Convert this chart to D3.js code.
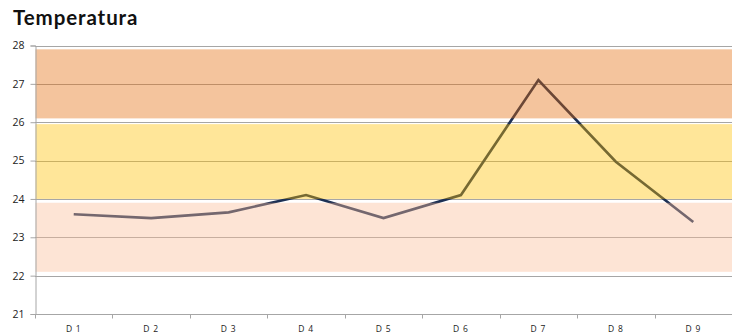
<!DOCTYPE html>
<html>
<head>
<meta charset="utf-8">
<script src="https://cdn.jsdelivr.net/npm/d3@7"></script>
<style>
  html, body { margin: 0; padding: 0; background: #fff; }
  svg { display: block; }
</style>
</head>
<body>
<svg id="chart" width="732" height="335"></svg>
<script>
// Daily temperature readings
const days = ["D 1", "D 2", "D 3", "D 4", "D 5", "D 6", "D 7", "D 8", "D 9"];
const temps = [23.6, 23.5, 23.65, 24.1, 23.5, 24.1, 27.1, 24.97, 23.4];

// Comfort zones drawn as translucent bands over the line
const bandLow  = [22.1, 24.0, 26.1];
const bandHigh = [23.9, 25.95, 27.9];
const bandFill = ["#fabb96", "#ffc000", "#e46c0a"];

// Y axis ticks
const yTicks = [21, 22, 23, 24, 25, 26, 27, 28];

const svg = d3.select("#chart");
const plotLeft = 35, plotRight = 732, plotTop = 45.5, plotBottom = 314;

const x = d3.scaleBand().domain(days).range([plotLeft, plotRight]);
const y = d3.scaleLinear().domain([21, 28]).range([plotBottom, plotTop]);

svg.append("text")
  .attr("x", 13).attr("y", 25)
  .attr("font-family", "Lato, 'Open Sans', sans-serif")
  .attr("font-weight", "bold")
  .attr("font-size", 20.5)
  .attr("letter-spacing", 0.9)
  .attr("fill", "#111")
  .text("Temperatura");

// Horizontal gridlines
svg.append("g")
  .selectAll("line")
  .data(yTicks.filter(t => t > 21))
  .join("line")
  .attr("x1", plotLeft).attr("x2", plotRight)
  .attr("y1", d => Math.round(y(d)) + 0.5).attr("y2", d => Math.round(y(d)) + 0.5)
  .attr("stroke", "#a6a6a6")
  .attr("stroke-width", 1);

// Temperature line
const line = d3.line()
  .x((d, i) => x(days[i]) + x.bandwidth() / 2)
  .y(d => y(d));

svg.append("path")
  .datum(temps)
  .attr("d", line)
  .attr("fill", "none")
  .attr("stroke", "#1c3054")
  .attr("stroke-width", 2.6)
  .attr("stroke-linejoin", "miter");

// Bands
svg.append("g")
  .selectAll("rect")
  .data(bandLow.map((lo, i) => ({ lo, hi: bandHigh[i], fill: bandFill[i] })))
  .join("rect")
  .attr("x", plotLeft + 0.5)
  .attr("width", plotRight - plotLeft)
  .attr("y", d => y(d.hi))
  .attr("height", d => y(d.lo) - y(d.hi))
  .attr("fill", d => d.fill)
  .attr("fill-opacity", 0.4);

// Y axis
const yAxis = d3.axisLeft(y).tickValues(yTicks).tickSize(5).tickPadding(6).tickFormat(d3.format("d"));
const gy = svg.append("g").attr("transform", `translate(${plotLeft + 0.5},0)`).call(yAxis);
gy.select(".domain").attr("stroke", "#a6a6a6");
gy.selectAll(".tick line").attr("stroke", "#a6a6a6");
gy.selectAll(".tick text")
  .attr("font-family", "'Open Sans', sans-serif")
  .attr("font-size", 10.5)
  .attr("fill", "#222");

// X axis with ticks at category boundaries
const gx = svg.append("g").attr("transform", `translate(0,${plotBottom + 0.5})`);
gx.append("line")
  .attr("x1", plotLeft).attr("x2", plotRight)
  .attr("stroke", "#a6a6a6");
gx.selectAll("line.tk")
  .data(days.map(d => x(d)).concat([plotRight]))
  .join("line")
  .attr("class", "tk")
  .attr("x1", d => Math.round(d) + 0.5).attr("x2", d => Math.round(d) + 0.5)
  .attr("y1", 0).attr("y2", 4)
  .attr("stroke", "#a6a6a6");
gx.selectAll("text")
  .data(days)
  .join("text")
  .attr("x", d => x(d) + x.bandwidth() / 2)
  .attr("y", 17)
  .attr("text-anchor", "middle")
  .attr("font-family", "'Open Sans', sans-serif")
  .attr("font-size", 8.5)
  .attr("letter-spacing", 0.8)
  .attr("fill", "#222")
  .text(d => d);
</script>
</body>
</html>
